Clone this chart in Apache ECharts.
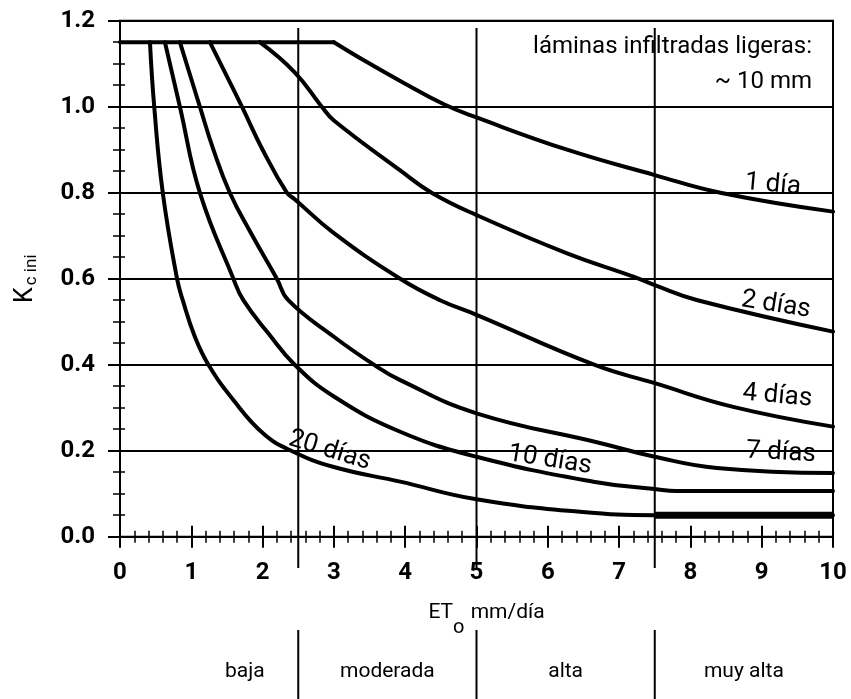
<!DOCTYPE html>
<html>
<head>
<meta charset="utf-8">
<script src="https://cdn.jsdelivr.net/npm/echarts@6/dist/echarts.min.js"></script>
<style>
  html, body { margin: 0; padding: 0; background: #fff; }
  #chart { width: 851px; height: 699px; }
</style>
</head>
<body>
<div id="chart"></div>
<script>
// Kc ini as a function of ETo for light infiltration depths,
// one curve per wetting interval.
const etoTickLabels = ['0', '1', '2', '3', '4', '5', '6', '7', '8', '9', '10'];
const kcTickLabels = ['0.0', '0.2', '0.4', '0.6', '0.8', '1.0', '1.2'];

const intervalNames = ['1 día', '2 días', '4 días', '7 días', '10 días', '20 días'];

// Upper limit shared by every curve at low ETo [ETo mm/día, Kc ini]
const kcPlateau = [[0, 1.15], [3.0, 1.15]];

// Each curve from the point where it leaves the upper limit
const kc1dia = [[3.0, 1.15], [3.45, 1.105], [3.93, 1.06], [4.55, 1.005], [5, 0.975],
  [6.27, 0.90], [7.5, 0.841], [8.42, 0.80], [10, 0.756]];
const kc2dias = [[1.96, 1.15], [2.45, 1.08], [2.83, 1.0], [3.0, 0.968], [3.93, 0.852],
  [4.37, 0.80], [5, 0.748], [6.27, 0.659], [7.2, 0.605], [7.5, 0.585], [8.1, 0.55], [10, 0.477]];
const kc4dias = [[1.26, 1.15], [1.71, 1.0], [2.0, 0.90], [2.34, 0.80], [2.45, 0.785],
  [3.0, 0.706], [3.93, 0.60], [4.49, 0.55], [5, 0.516], [6.65, 0.40], [7.5, 0.357], [8.6, 0.302], [10, 0.256]];
const kc7dias = [[0.84, 1.15], [1.12, 1.0], [1.31, 0.90], [1.54, 0.80], [1.84, 0.705],
  [2.2, 0.60], [2.36, 0.55], [3.0, 0.465], [3.56, 0.40], [3.93, 0.364], [5, 0.287], [6.73, 0.218],
  [7.5, 0.186], [8.37, 0.16], [10, 0.148]];
const kc10dias = [[0.63, 1.15], [0.84, 1.0], [1.12, 0.80], [1.59, 0.60], [1.73, 0.55],
  [2.08, 0.473], [2.45, 0.40], [3.0, 0.326], [3.93, 0.244], [5, 0.186], [6.64, 0.128], [7.5, 0.111],
  [7.8, 0.106], [10, 0.106]];
const kc20dias = [[0.42, 1.15], [0.48, 1.0], [0.60, 0.80], [0.80, 0.60], [0.88, 0.55],
  [1.05, 0.465], [1.24, 0.40], [1.59, 0.318], [2.01, 0.24], [2.4, 0.20], [3.0, 0.162], [3.93, 0.128],
  [5, 0.087], [6.45, 0.058], [7.5, 0.05], [10, 0.05]];

const curves = [kc1dia, kc2dias, kc4dias, kc7dias, kc10dias, kc20dias];

// Evaporative demand classes below the axis
const demandClasses = ['baja', 'moderada', 'alta', 'muy alta'];
const demandEdges = [1, 2.5, 5, 7.5, 10];

const FONT = 'Roboto, "Liberation Sans", sans-serif';
const INK = '#000';

const chart = echarts.init(document.getElementById('chart'), null, { renderer: 'canvas' });

const axisBase = {
  min: 0,
  type: 'value',
  gridIndex: 0,
  splitLine: { show: false }
};

const curveLine = { color: INK, width: 4, cap: 'round', join: 'round' };

chart.setOption({
  animation: false,
  backgroundColor: '#fff',
  grid: {
    left: 120, right: 18, top: 20.7, bottom: 162.3,
    show: true, borderColor: INK, borderWidth: 2, backgroundColor: 'transparent'
  },
  xAxis: [
    Object.assign({}, axisBase, {
      max: 10, interval: 1, position: 'bottom',
      axisLine: { show: true, lineStyle: { color: INK, width: 2 } },
      axisTick: { show: true, inside: false, length: 11, lineStyle: { color: INK, width: 2 } },
      minorTick: { show: true, splitNumber: 5, length: 6, lineStyle: { color: INK, width: 1.5 } },
      axisLabel: {
        margin: 24, fontSize: 24, fontWeight: 'bold', color: INK, fontFamily: FONT,
        formatter: (v) => etoTickLabels[Math.round(v)]
      },
      name: '{m|ET}{o|o}{m| mm/día}',
      nameLocation: 'middle',
      nameGap: 66,
      nameTextStyle: {
        padding: [0, 0, 0, 20],
        rich: {
          m: { fontSize: 21, lineHeight: 24, verticalAlign: 'top', color: INK, fontFamily: FONT },
          o: { fontSize: 20, lineHeight: 35, verticalAlign: 'bottom', padding: [0, 1, 0, 0], color: INK, fontFamily: FONT }
        }
      }
    }),
    Object.assign({}, axisBase, {
      max: 10, interval: 1, position: 'bottom',
      axisLine: { show: false },
      axisTick: { show: true, inside: true, length: 11, lineStyle: { color: INK, width: 2 } },
      minorTick: { show: true, splitNumber: 5, length: 6, lineStyle: { color: INK, width: 1.5 } },
      axisLabel: { show: false }
    })
  ],
  yAxis: [
    Object.assign({}, axisBase, {
      max: 1.2, interval: 0.2, position: 'left',
      axisLine: { show: true, lineStyle: { color: INK, width: 2 } },
      axisTick: { show: true, inside: false, length: 12, lineStyle: { color: INK, width: 2 } },
      minorTick: { show: true, splitNumber: 4, length: 7, lineStyle: { color: INK, width: 1.5 } },
      splitLine: { show: true, lineStyle: { color: INK, width: 2 } },
      axisLabel: {
        margin: 25, fontSize: 24, fontWeight: 'bold', color: INK, fontFamily: FONT,
        formatter: (v) => kcTickLabels[Math.round(v / 0.2)]
      },
      name: '{k|K}{s|c ini}',
      nameLocation: 'middle',
      nameRotate: 90,
      nameGap: 80,
      nameTextStyle: {
        rich: {
          k: { fontSize: 25, lineHeight: 28, verticalAlign: 'middle', color: INK, fontFamily: FONT },
          s: { fontSize: 17, lineHeight: 17, verticalAlign: 'bottom', padding: [0, 0, 0, 2], color: INK, fontFamily: FONT }
        }
      }
    }),
    Object.assign({}, axisBase, {
      max: 1.2, interval: 0.2, position: 'left',
      axisLine: { show: false },
      axisTick: { show: true, inside: true, length: 1, lineStyle: { color: INK, width: 2 } },
      minorTick: { show: true, splitNumber: 4, length: 5, lineStyle: { color: INK, width: 1.5 } },
      axisLabel: { show: false }
    })
  ],
  series: [{
    name: 'Kc máx',
    type: 'line',
    data: kcPlateau,
    showSymbol: false,
    lineStyle: curveLine,
    z: 3
  }].concat(curves.map((pts, i) => ({
    name: intervalNames[i],
    type: 'line',
    xAxisIndex: 0,
    yAxisIndex: 0,
    data: pts,
    showSymbol: false,
    smooth: 0.45,
    lineStyle: curveLine,
    z: 3
  }))).concat([{
    // heavier stroke on the level run of the 20-day curve
    name: '20 días (tramo final)',
    type: 'line',
    data: kc20dias.slice(-2),
    showSymbol: false,
    lineStyle: { color: INK, width: 7 },
    z: 3
  }])
});

// Curve captions, anchored in data space
const curveCaptions = [
  { idx: 0, at: [9.155, 0.818], angle: -5 },
  { idx: 1, at: [9.20, 0.539], angle: -9 },
  { idx: 2, at: [9.22, 0.327], angle: -5 },
  { idx: 3, at: [9.27, 0.195], angle: -3 },
  { idx: 4, at: [6.03, 0.178], angle: -9 },
  { idx: 5, at: [2.94, 0.200], angle: -17 }
];

function toPx(x, y) {
  return chart.convertToPixel({ xAxisIndex: 0, yAxisIndex: 0 }, [x, y]);
}

function buildOverlay() {
  const els = [];
  const stroke = { stroke: INK, lineWidth: 2 };

  // Demand class boundaries through the plot and in the strip below
  demandEdges.slice(1, -1).forEach((b) => {
    const top = toPx(b, 1.183);
    const bot = toPx(b, -0.073);
    els.push({ type: 'line', z: 4, shape: { x1: top[0], y1: top[1], x2: bot[0], y2: bot[1] }, style: stroke });
    els.push({ type: 'line', z: 4, shape: { x1: top[0], y1: 630, x2: top[0], y2: 699 }, style: stroke });
  });

  demandClasses.forEach((name, i) => {
    const mid = toPx((demandEdges[i] + demandEdges[i + 1]) / 2, 0)[0];
    els.push({
      type: 'text', z: 5, x: mid, y: 672,
      style: { text: name, fill: INK, font: '21px ' + FONT, align: 'center', verticalAlign: 'middle' }
    });
  });

  curveCaptions.forEach((c) => {
    const p = toPx(c.at[0], c.at[1]);
    els.push({
      type: 'text', z: 6, x: p[0], y: p[1], rotation: c.angle * Math.PI / 180,
      style: { text: intervalNames[c.idx], fill: INK, font: '26px ' + FONT, align: 'center', verticalAlign: 'middle' }
    });
  });

  const noteAnchor = toPx(10, 1.2);
  els.push({
    type: 'text', z: 3, x: noteAnchor[0] - 21, y: noteAnchor[1] + 9,
    style: {
      text: 'láminas infiltradas ligeras:\n~ 10 mm',
      fill: INK, font: '24px ' + FONT, align: 'right', verticalAlign: 'top', lineHeight: 35
    }
  });

  chart.setOption({ graphic: { elements: els } });
}

buildOverlay();
</script>
</body>
</html>
